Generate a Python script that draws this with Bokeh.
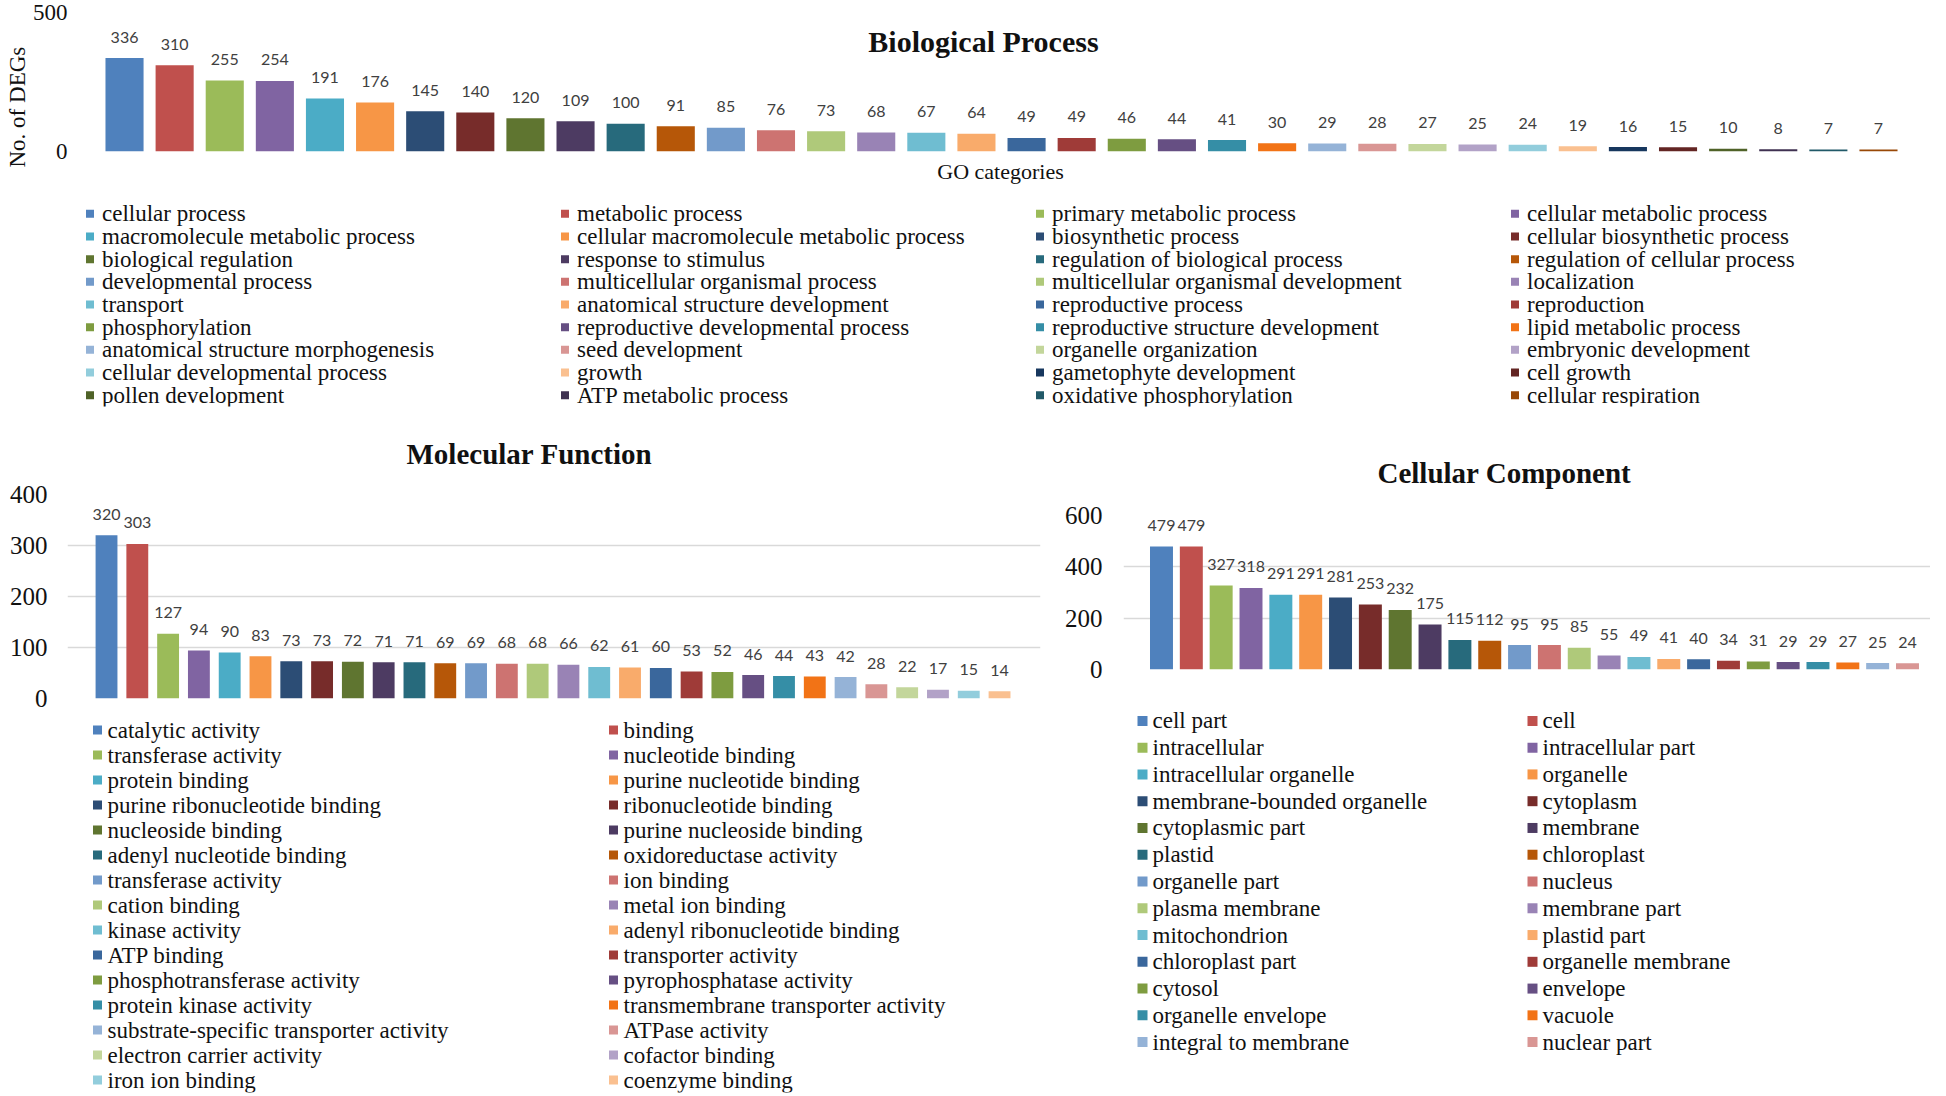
from bokeh.plotting import figure
from bokeh.models import ColumnDataSource, FixedTicker, Label, Range1d, Title
from bokeh.layouts import column, row
from bokeh.embed import file_html
from bokeh.resources import INLINE
from bokeh.core.properties import value

# ---------------- data ----------------
bp_categories = [
    "cellular process", "metabolic process", "primary metabolic process", "cellular metabolic process",
    "macromolecule metabolic process", "cellular macromolecule metabolic process", "biosynthetic process", "cellular biosynthetic process",
    "biological regulation", "response to stimulus", "regulation of biological process", "regulation of cellular process",
    "developmental process", "multicellular organismal process", "multicellular organismal development", "localization",
    "transport", "anatomical structure development", "reproductive process", "reproduction",
    "phosphorylation", "reproductive developmental process", "reproductive structure development", "lipid metabolic process",
    "anatomical structure morphogenesis", "seed development", "organelle organization", "embryonic development",
    "cellular developmental process", "growth", "gametophyte development", "cell growth",
    "pollen development", "ATP metabolic process", "oxidative phosphorylation", "cellular respiration",
]
bp_counts = [336, 310, 255, 254, 191, 176, 145, 140, 120, 109, 100, 91, 85, 76, 73, 68, 67, 64,
             49, 49, 46, 44, 41, 30, 29, 28, 27, 25, 24, 19, 16, 15, 10, 8, 7, 7]
bp_y_ticks = [0, 500]

mf_categories = [
    "catalytic activity", "binding", "transferase activity", "nucleotide binding",
    "protein binding", "purine nucleotide binding", "purine ribonucleotide binding", "ribonucleotide binding",
    "nucleoside binding", "purine nucleoside binding", "adenyl nucleotide binding", "oxidoreductase activity",
    "transferase activity", "ion binding", "cation binding", "metal ion binding",
    "kinase activity", "adenyl ribonucleotide binding", "ATP binding", "transporter activity",
    "phosphotransferase activity", "pyrophosphatase activity", "protein kinase activity", "transmembrane transporter activity",
    "substrate-specific transporter activity", "ATPase activity", "electron carrier activity", "cofactor binding",
    "iron ion binding", "coenzyme binding",
]
mf_counts = [320, 303, 127, 94, 90, 83, 73, 73, 72, 71, 71, 69, 69, 68, 68, 66, 62, 61, 60,
             53, 52, 46, 44, 43, 42, 28, 22, 17, 15, 14]
mf_y_ticks = [0, 100, 200, 300, 400]

cc_categories = [
    "cell part", "cell", "intracellular", "intracellular part",
    "intracellular organelle", "organelle", "membrane-bounded organelle", "cytoplasm",
    "cytoplasmic part", "membrane", "plastid", "chloroplast",
    "organelle part", "nucleus", "plasma membrane", "membrane part",
    "mitochondrion", "plastid part", "chloroplast part", "organelle membrane",
    "cytosol", "envelope", "organelle envelope", "vacuole",
    "integral to membrane", "nuclear part",
]
cc_counts = [479, 479, 327, 318, 291, 291, 281, 253, 232, 175, 115, 112, 95, 95, 85,
             55, 49, 41, 40, 34, 31, 29, 29, 27, 25, 24]
cc_y_ticks = [0, 200, 400, 600]

# ---------------- style ----------------
PALETTE = [
    "#4F81BD", "#C0504D", "#9BBB59", "#8064A2", "#4BACC6", "#F79646",
    "#2C4D75", "#772C2A", "#5F7530", "#4D3B62", "#276A7C", "#B65708",
    "#729ACA", "#CD7371", "#AFC97A", "#9983B5", "#6FBDD1", "#F9AB6B",
    "#3A679C", "#9F3B38", "#7E9C40", "#664F83", "#358EA6", "#F27316",
    "#95B3D7", "#D99694", "#C3D69B", "#B2A2C7", "#92CDDC", "#FAC090",
    "#17375E", "#632523", "#4F6228", "#3F3151", "#215968", "#984807",
]
SERIF = "Liberation Serif"
NUM_FONT = "Lato"
GRID = "#d9d9d9"
INK = "#111111"
LABEL_INK = "#404040"


def bar_chart(cats, counts, ticks, width, height, borders, pads, bar_width,
              tick_px, tick_standoff, title=None, title_standoff=10, title_offset=0,
              x_label=None):
    n = len(cats)
    src = ColumnDataSource(dict(
        x=list(range(n)), v=counts, t=[str(c) for c in counts],
        color=PALETTE[:n], cat=cats,
    ))
    mb_l, mb_r, mb_t, mb_b = borders
    p = figure(width=width, height=height, output_backend="svg", toolbar_location=None,
               x_range=Range1d(-pads[0], n - 1 + pads[1]), y_range=Range1d(0, ticks[-1]),
               min_border_left=mb_l, min_border_right=mb_r,
               min_border_top=mb_t, min_border_bottom=mb_b,
               x_axis_location="below" if x_label else None)
    p.outline_line_color = None

    if title:
        p.title.text = title
        p.title.align = "left"
        p.title.offset = title_offset
        p.title.vertical_align = "bottom"
        p.title.standoff = title_standoff
        p.title.text_font = SERIF
        p.title.text_font_size = "29px"
        p.title.text_font_style = "bold"
        p.title.text_color = INK

    yax = p.yaxis[0]
    yax.ticker = FixedTicker(ticks=ticks)
    yax.axis_line_color = None
    yax.major_tick_line_color = None
    yax.minor_tick_line_color = None
    yax.major_tick_out = 0
    yax.major_tick_in = 0
    yax.major_label_text_font = SERIF
    yax.major_label_text_font_size = tick_px
    yax.major_label_text_color = INK
    yax.major_label_standoff = tick_standoff

    p.ygrid.grid_line_color = GRID
    p.ygrid.grid_line_width = 1.5
    p.xgrid.visible = False

    if x_label:
        xax = p.xaxis[0]
        xax.ticker = FixedTicker(ticks=[])
        xax.axis_line_color = None
        xax.major_tick_line_color = None
        xax.minor_tick_line_color = None
        xax.major_label_standoff = 0
        xax.major_tick_out = 0
        xax.axis_label = x_label
        xax.axis_label_text_font = SERIF
        xax.axis_label_text_font_size = "22px"
        xax.axis_label_text_font_style = "normal"
        xax.axis_label_text_color = INK
        xax.axis_label_standoff = 7

    p.vbar(x="x", top="v", width=bar_width, source=src,
           fill_color="color", line_color=None)
    p.text(x="x", y="v", text="t", source=src, text_align="center",
           text_baseline="middle", y_offset=-21, text_font=value(NUM_FONT),
           text_font_size="16px", text_color=LABEL_INK)
    return p


def make_legend(cats, ncols, width, borders_lr, row_pitch, top, swatch_offset, col_pitch,
                glyph, text_offset, font_px, bottom=4):
    n = len(cats)
    nrows = -(-n // ncols)
    frame_h = int(round(nrows * row_pitch))
    height = top + frame_h + bottom
    left, right = borders_lr
    frame_w = width - left - right
    x0 = -swatch_offset / col_pitch
    src = ColumnDataSource(dict(
        col=[i % ncols for i in range(n)],
        row=[i // ncols + 0.5 for i in range(n)],
        cat=cats, color=PALETTE[:n],
    ))
    p = figure(width=width, height=height, output_backend="svg", toolbar_location=None,
               x_range=Range1d(x0, x0 + frame_w / col_pitch),
               y_range=Range1d(nrows, 0),
               x_axis_location=None, y_axis_location=None,
               min_border_left=left, min_border_right=right,
               min_border_top=top, min_border_bottom=bottom)
    p.outline_line_color = None
    p.grid.visible = False
    p.scatter(x="col", y="row", marker="square", size=glyph, source=src,
              fill_color="color", line_color=None)
    p.text(x="col", y="row", text="cat", source=src, x_offset=text_offset,
           text_align="left", text_baseline="middle", text_font=value(SERIF),
           text_font_size=font_px, text_color=INK)
    return p


# ---------------- Biological Process ----------------
bp = bar_chart(bp_categories, bp_counts, bp_y_ticks, 1930, 186,
               (70, 0, 12, 35), (1.078, 1.038), 0.76, "23px", 3,
               x_label="GO categories")
bp.add_layout(Title(text="No. of DEGs", align="left", offset=-16, standoff=0,
                    text_font=SERIF, text_font_size="23px", text_font_style="normal",
                    text_color=INK), "left")
bp.add_layout(Label(x=17.14, y=396, text="Biological Process", text_align="center",
                    text_baseline="middle", text_font=SERIF, text_font_size="30px",
                    text_font_style="bold", text_color=INK))
bp_leg = make_legend(bp_categories, 4, 1930, (70, 0), 22.65, 16, 19.5, 475, 8, 12, "23px")

# ---------------- Molecular Function ----------------
mf = bar_chart(mf_categories, mf_counts, mf_y_ticks, 1050, 302,
               (67, 10, 83, 14), (1.267, 1.33), 0.71, "25px", 20,
               title="Molecular Function", title_standoff=50, title_offset=339)
mf_leg = make_legend(mf_categories, 2, 1050, (67, 10), 25, 5, 30, 516, 9, 10, "23px", bottom=2)

# ---------------- Cellular Component ----------------
cc = bar_chart(cc_categories, cc_counts, cc_y_ticks, 880, 275,
               (73, 0, 105, 16), (1.273, 0.771), 0.77, "25px", 21,
               title="Cellular Component", title_standoff=54, title_offset=254)
cc_leg = make_legend(cc_categories, 2, 880, (73, 0), 26.75, 22, 19, 390, 10, 10, "23px")

layout = column(bp, bp_leg, row(column(mf, mf_leg), column(cc, cc_leg)))
open("out.html", "w").write(file_html(layout, INLINE))
